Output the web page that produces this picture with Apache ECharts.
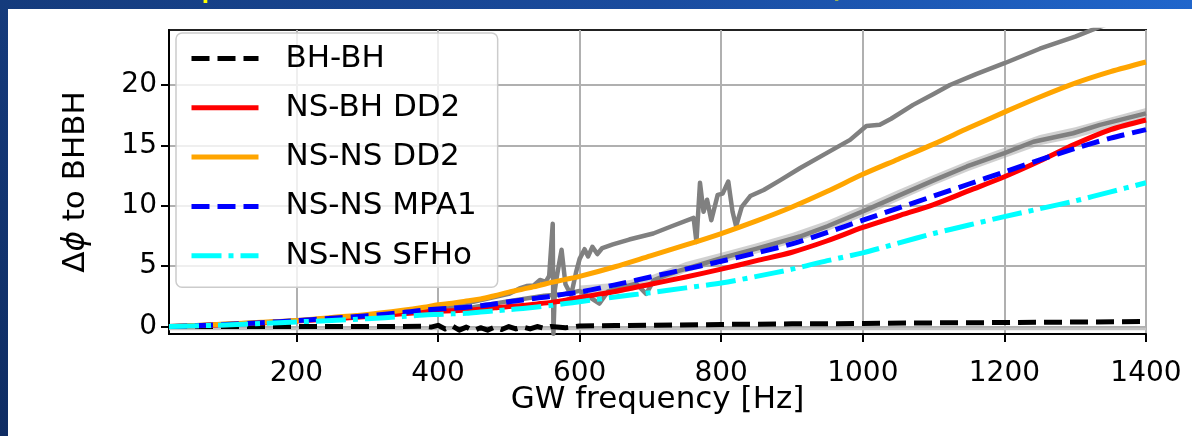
<!DOCTYPE html>
<html><head><meta charset="utf-8">
<script src="https://cdn.jsdelivr.net/npm/echarts@6.0.0/dist/echarts.min.js"></script>
<style>
html,body{margin:0;padding:0;width:1192px;height:436px;overflow:hidden;}
body{background:linear-gradient(to bottom, rgba(0,0,0,0) 0%, rgba(0,10,40,0.3) 100%), linear-gradient(to right,#153b7c 0%,#1a4c9f 55%,#2066cc 100%);}
#panel{position:absolute;left:8px;top:9px;width:1184px;height:427px;background:#fff;}
#chart{position:absolute;left:0;top:0;width:1192px;height:436px;}
</style></head><body>
<div id="panel"></div><div id="chart"></div>
<script>
// ---- data ----
const xTicks = [200, 400, 600, 800, 1000, 1200, 1400];
const yTicks = [0, 5, 10, 15, 20];
const legendNames = ['BH-BH', 'NS-BH DD2', 'NS-NS DD2', 'NS-NS MPA1', 'NS-NS SFHo'];

const freq = [20,50,100,150,200,250,300,350,380,400,420,440,460,480,500,520,540,560,580,600,650,700,750,800,850,900,950,1000,1050,1100,1150,1200,1250,1300,1350,1400];
const nsnsDD2 = [0,0.07,0.2,0.35,0.5,0.75,1.0,1.35,1.6,1.8,1.93,2.12,2.28,2.55,2.85,3.1,3.35,3.65,3.9,4.15,4.95,5.85,6.75,7.7,8.75,9.9,11.2,12.6,13.85,15.1,16.45,17.75,19.0,20.15,21.1,21.9];
const nsbhDD2 = [0,0.05,0.15,0.3,0.45,0.62,0.82,1.05,1.2,1.27,1.3,1.36,1.42,1.55,1.65,1.75,1.87,2.0,2.18,2.4,2.9,3.5,4.1,4.75,5.45,6.15,7.1,8.2,9.15,10.1,11.25,12.4,13.7,15.1,16.3,17.1];
const nsnsMPA1 = [0,0.05,0.17,0.32,0.48,0.68,0.9,1.15,1.35,1.45,1.52,1.6,1.72,1.86,2.05,2.2,2.35,2.5,2.7,2.85,3.45,4.1,4.75,5.4,6.1,6.85,7.8,8.8,9.8,10.8,11.8,12.8,13.8,14.75,15.6,16.3];
const nsnsSFHo = [0,0.04,0.13,0.25,0.38,0.5,0.65,0.82,0.95,1.0,1.05,1.1,1.2,1.3,1.4,1.5,1.62,1.75,1.9,2.05,2.45,2.8,3.2,3.6,4.15,4.75,5.45,6.1,6.9,7.7,8.4,9.1,9.75,10.4,11.15,11.9];

const bhFreq = [20,200,350,380,390,400,410,420,430,440,450,460,470,480,490,500,510,520,530,540,550,560,580,600,650,700,800,900,1000,1100,1200,1300,1400];
const bhbh = [0,0,0,0.02,-0.05,0.1,-0.2,0.05,-0.3,-0.05,-0.35,-0.1,-0.3,-0.05,-0.25,0,-0.2,-0.05,-0.2,0,-0.15,0,-0.1,0.05,0.08,0.1,0.17,0.22,0.25,0.3,0.33,0.37,0.41];

const bhErrFreq = [20, 1400];
const bhErr = [-0.2, -0.2];

const upFreq = [20,100,200,300,400,450,500,515,525,535,544,552,557,562,563,565,568,571,574.5,580,588,595,600,607,612,618,625,632,647,670,704,730,761,765,770,775,780,786,795,802,810,816,821,829,841,860,883,911,950,982,1005,1024,1040,1071,1100,1123,1160,1200,1250,1300,1330,1400];
const grayUpper = [0,0.17,0.47,0.93,1.62,2.05,2.7,3.15,3.35,3.4,3.85,3.7,4.2,8.5,-0.6,3.0,4.2,5.2,6.35,3.5,2.6,4.5,5.6,6.4,5.8,6.6,6.0,6.5,6.8,7.2,7.7,8.3,9.0,7.0,11.9,9.5,10.5,8.8,10.9,11.0,12.0,9.5,8.3,9.9,10.8,11.3,12.1,13.1,14.4,15.45,16.6,16.7,17.2,18.35,19.25,20.0,20.9,21.8,23.0,24.0,24.7,26.2];

const midFreq = [20,200,350,450,500,550,580,600,615,628,640,660,680,694,705,720,740,760,780,800,850,911,950,1005,1053,1100,1147,1200,1241,1297,1335,1400];
const grayMid = [0,0.48,1.18,1.6,2.1,2.55,2.7,2.95,2.4,1.9,2.9,3.25,3.55,2.7,3.85,4.2,4.6,4.95,5.3,5.65,6.45,7.45,8.3,9.66,10.9,12.1,13.25,14.35,15.3,16.0,16.7,17.65];

const bandFreq = [600,650,700,750,800,850,900,950,1000,1050,1100,1150,1200,1250,1300,1350,1400];
const bandLow  = [2.5,2.7,3.3,4.5,5.25,6.05,6.9,7.9,9.1,10.4,11.7,12.9,13.95,15.0,15.6,16.4,17.2];
const bandHigh = [3.4,3.6,4.2,5.35,6.1,6.9,7.75,8.75,10.0,11.3,12.55,13.75,14.8,15.85,16.5,17.3,18.1];

// ---- chart ----
const FONT = 'DejaVu Sans';
const LW = 5;
const pairs = (xs, ys) => xs.map((x, i) => [x, ys[i]]);
function lineSeries(name, data, color, width, type, z, smooth) {
  return {
    name: name, type: 'line', data: data, symbol: 'none', showSymbol: false,
    smooth: smooth || false, z: z, silent: true, emphasis: { disabled: true },
    itemStyle: { color: color },
    lineStyle: { color: color, width: width, type: type || 'solid', cap: 'butt', join: 'round' }
  };
}

const chart = echarts.init(document.getElementById('chart'), null, { renderer: 'canvas' });
const option = {
  animation: false,
  backgroundColor: 'transparent',
  grid: { left: 169, right: 46, top: 30, bottom: 102, show: true, borderColor: '#222', borderWidth: 2,
          backgroundColor: 'transparent', containLabel: false, outerBoundsMode: 'none' },
  xAxis: {
    type: 'value', min: 20, max: 1400,
    name: 'GW frequency [Hz]', nameLocation: 'middle', nameGap: 50, nameMoveOverlap: false,
    nameTextStyle: { fontFamily: FONT, fontSize: 31, color: '#000' },
    axisLine: { show: true, onZero: false, lineStyle: { color: '#000', width: 2 } },
    axisTick: { show: true, inside: false, length: 8, customValues: xTicks, lineStyle: { color: '#000', width: 2 } },
    axisLabel: { customValues: xTicks, fontFamily: FONT, fontSize: 28, color: '#000', margin: 26,
                 formatter: v => String(v) },
    splitLine: { show: true, lineStyle: { color: '#b0b0b0', width: 2 } }
  },
  yAxis: {
    type: 'value', min: -0.62, max: 24.55,
    name: 'Δ{i|ϕ} to BHBH', nameLocation: 'middle', nameGap: 78, nameMoveOverlap: false,
    nameTextStyle: { fontFamily: FONT, fontSize: 31, color: '#000',
      rich: { i: { fontFamily: FONT, fontSize: 31, fontStyle: 'italic', color: '#000' } } },
    axisLine: { show: true, onZero: false, lineStyle: { color: '#000', width: 2 } },
    axisTick: { show: true, inside: false, length: 8, customValues: yTicks, lineStyle: { color: '#000', width: 2 } },
    axisLabel: { customValues: yTicks, fontFamily: FONT, fontSize: 28, color: '#000', margin: 12,
                 formatter: v => String(v) },
    splitLine: { show: true, lineStyle: { color: '#b0b0b0', width: 2 } }
  },
  legend: {
    data: legendNames, orient: 'vertical', left: 176, top: 33, padding: [10, 21, 16, 13],
    itemWidth: 67, itemHeight: 30, itemGap: 18.3, selectedMode: false, z: 50,
    backgroundColor: 'rgba(255,255,255,0.8)', borderColor: '#cccccc', borderWidth: 1.5, borderRadius: 6,
    textStyle: { fontFamily: FONT, fontSize: 31, color: '#000', padding: [0, 0, 0, 22], lineHeight: 30 },
    itemStyle: { opacity: 0 }, lineStyle: { width: LW }
  },
  graphic: [
    { type: 'text', x: 200, y: 4, z: 100, style: { text: 'p', fill: '#ffff00', fontFamily: FONT, fontSize: 40, verticalAlign: 'bottom' } },
    { type: 'text', x: 826, y: 5, z: 100, style: { text: '(', fill: '#ffff00', fontFamily: FONT, fontSize: 40, verticalAlign: 'bottom' } }
  ],
  series: [
    lineSeries('bhbhErr', pairs(bhErrFreq, bhErr), '#c4c4c4', 2.5, 'solid', 1),
    {
      name: 'grayBand', type: 'custom', silent: true, z: 1, clip: true,
      data: [[bandFreq[0], bandLow[0]]],
      renderItem: function (params, api) {
        const pts = [];
        for (let i = 0; i < bandFreq.length; i++) pts.push(api.coord([bandFreq[i], bandHigh[i]]));
        for (let i = bandFreq.length - 1; i >= 0; i--) pts.push(api.coord([bandFreq[i], bandLow[i]]));
        return { type: 'polygon', shape: { points: pts }, style: { fill: 'rgba(150,150,150,0.45)' } };
      }
    },
    lineSeries('grayMid', pairs(midFreq, grayMid), '#808080', 4.5, 'solid', 2),
    lineSeries('grayUpper', pairs(upFreq, grayUpper), '#808080', 4.5, 'solid', 2),
    lineSeries('BH-BH', pairs(bhFreq, bhbh), '#000000', LW, [18, 8], 3),
    lineSeries('NS-BH DD2', pairs(freq, nsbhDD2), '#ff0000', LW, 'solid', 3, 0.3),
    lineSeries('NS-NS DD2', pairs(freq, nsnsDD2), '#ffa500', LW, 'solid', 3, 0.3),
    lineSeries('NS-NS MPA1', pairs(freq, nsnsMPA1), '#0000ff', LW, [18, 8], 3, 0.3),
    lineSeries('NS-NS SFHo', pairs(freq, nsnsSFHo), '#00ffff', LW, [30, 7, 5, 7], 3, 0.3)
  ]
};
chart.setOption(option);
</script></body></html>
